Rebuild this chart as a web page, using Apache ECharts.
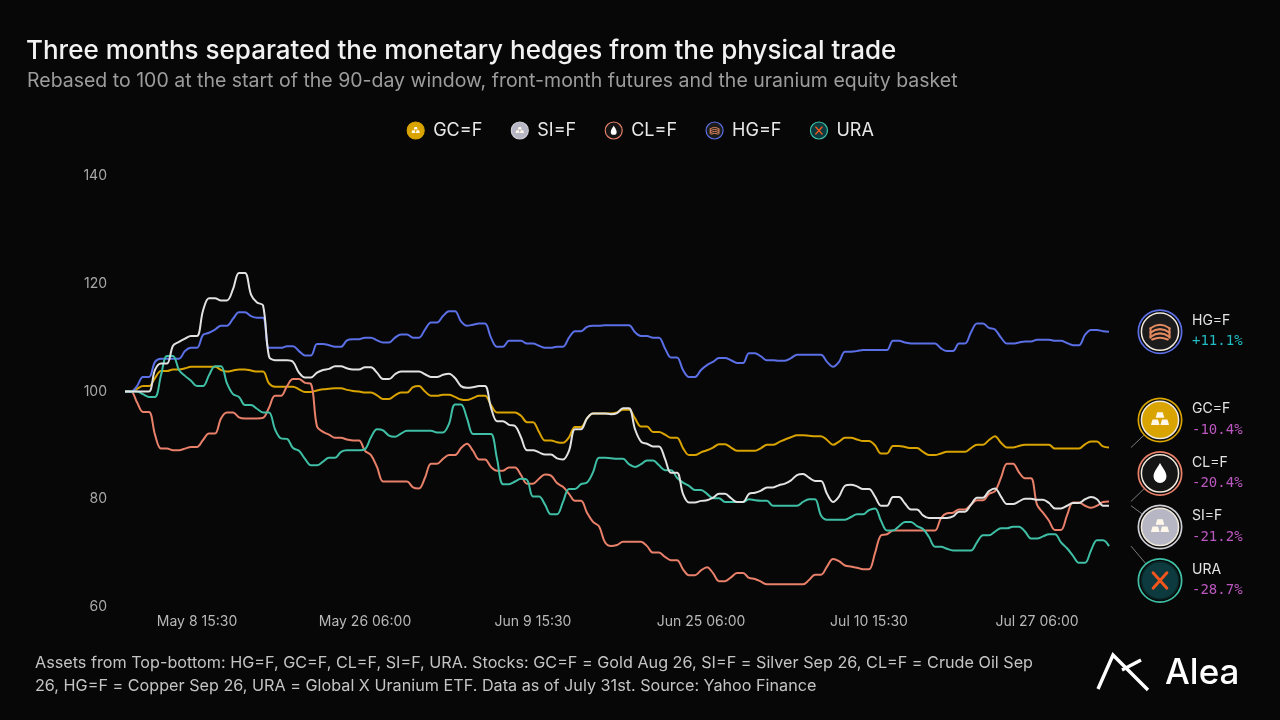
<!DOCTYPE html>
<html>
<head>
<meta charset="utf-8">
<script src="https://cdn.jsdelivr.net/npm/echarts@6/dist/echarts.min.js"></script>
<style>
html,body{margin:0;padding:0;background:#070707;}
#chart{width:1280px;height:720px;}
</style>
</head>
<body>
<div id="chart"></div>
<script>
// ---- Data (rebased to 100) ----
const seriesNames = ['GC=F', 'SI=F', 'CL=F', 'HG=F', 'URA'];
const tickLabels = ['May 8 15:30', 'May 26 06:00', 'Jun 9 15:30', 'Jun 25 06:00', 'Jul 10 15:30', 'Jul 27 06:00'];
const tickPositions = [12, 40, 68, 96, 124, 152];
const yTicks = [60, 80, 100, 120, 140];

const GC = [100,100,100.5,101.0,101.0,102.5,103.8,103.8,104.1,104.1,
104.3,104.6,104.6,104.6,104.6,104.6,104,103.7,103.9,104.1,
104.1,103.9,103.7,103.7,101.5,100.9,100.9,100.9,100.9,100.4,
99.9,99.9,100.2,100.4,100.5,100.6,100.6,100.3,100.1,100,
99.8,99.8,99.3,98.6,98.6,99.3,99.8,99.8,100.8,101.0,
100,99.2,99.2,99.4,99.4,99,98.5,98.4,98.8,99.2,
99.2,97.5,96.1,96.1,96.1,96.1,95.5,94.3,94.3,92.5,
90.9,90.9,90.6,90.5,91.5,93.4,93.4,95,95.9,95.9,
95.9,95.9,96.1,96.6,96.6,95,93.5,93.5,92.5,92.5,
92,91.4,91.4,89.5,88.2,88.2,88.7,89.1,89.6,90.2,
90.2,89.6,89.0,89.0,89.0,89.0,89.5,90.1,90.1,90.6,
91.1,91.5,91.9,91.9,91.8,91.7,91.7,91,90.1,90.7,
91.4,91.4,91.1,90.8,90.8,90,88.5,88.5,89.9,89.9,
89.7,89.5,89.5,88.8,88.2,88.2,88.5,88.8,88.8,88.8,
88.8,89.5,90.1,90.1,91,91.7,90.5,89.6,89.6,89.9,
90.1,90.1,90.1,90.1,90.1,89.4,89.4,89.4,89.4,89.4,
90.2,90.7,90.7,89.8,89.6];

const SI = [100,100,100,100,100,104,105.2,105.2,108.5,109.2,
109.8,110.3,110.3,115,117.3,117.3,116.9,116.9,119,122.0,
122.0,118,116.5,116,106.5,105.8,105.8,105.8,105.5,103.5,
102.6,102.6,103.5,104.0,104.2,104.7,104.7,104.3,104.1,104.1,
104.5,104.5,103.5,102.3,102.3,103.2,103.7,103.7,103.7,103.7,
103.2,102.7,102.7,103.1,103.3,102.5,101,100.7,100.8,101.0,
101.0,97,94.5,94.5,93.8,93.6,91.5,89.1,89.1,88.7,
88.3,88.3,87.6,87.4,89,93.0,93.0,95,95.9,95.9,
95.9,95.8,96,96.9,96.9,93,90.7,90.3,89.8,89.8,
87.5,84.9,84.9,81,79.4,79.4,79.7,79.8,80.3,81.0,
81.0,80.2,79.5,79.5,81.0,81.2,81.6,82.2,82.2,82.6,
82.9,83.5,84.5,84.7,84,83.4,83.4,81,79.5,80.5,
82.5,82.7,82.4,81.9,81.9,80.5,78.8,78.8,80.4,80.4,
79.2,78.1,78.1,77,76.5,76.5,76.5,76.5,76.8,77.7,
77.7,79,80.3,80.3,81.5,82.0,80.5,79.1,79.1,79.6,
80.1,80.1,79.9,79.9,79.3,78.3,78.3,78.8,79.3,79.3,
80,80.4,80.0,78.8,78.8];

const CL = [100,100,98,96.2,96.2,92,89.4,89.4,89.1,89.1,
89.4,89.7,89.7,91,92.2,92.2,95,96.1,96.1,95.2,
95.0,95.0,95.0,95.1,97,99.2,99.2,101,102.3,102.3,
101.6,101.4,93.5,92.5,92,91.4,91.4,91.1,90.9,90.9,
89,88.2,86,83.3,83.3,83.3,83.3,83.3,82.2,82.0,
84,86.6,86.6,87.5,88.2,88.2,89.5,90.3,89,87.4,
87.4,86,85.3,85.3,85.9,85.9,84.5,82.9,82.9,83.8,
84.6,84.4,83,82.3,81,79.7,79.7,77.5,75.8,75,
72,71.3,71.5,72.1,72.1,72.1,72.1,71.3,70.1,70.1,
69.3,68.7,68.7,67,65.9,65.9,66.8,67.4,66.3,64.8,
64.8,65.5,66.3,66.3,65.4,65.2,64.7,64.2,64.2,64.2,
64.2,64.2,64.2,64.2,65,66.0,66.0,67.5,68.9,68.5,
67.7,67.5,67.3,67.0,67.0,70,73.3,73.5,74.2,74.2,
74.2,74.2,74.2,74.2,74.2,74.2,76.5,77.4,77.5,78.1,
78.1,79,79.8,79.8,81,81.5,84,86.6,86.6,85,
83.9,83.9,79,77.5,76,74.3,74.3,77,79.4,79.4,
78.8,78.4,78.8,79.5,79.6];

const HG = [100,100,101,102.7,102.7,105.5,106.1,106.1,106.1,106.1,
107.5,108.1,108.1,110.5,110.9,111.5,112.2,112.2,113.5,114.7,
114.7,114,113.7,113.7,108.1,108.1,108.1,108.4,108.4,107.5,
106.7,106.7,108.8,108.8,108.6,108.3,108.3,109.5,109.7,109.7,
110.0,110.0,109.5,109.1,109.1,110,110.6,110.6,110.0,110.0,
111.5,112.8,112.8,114,114.9,114.9,113,112.2,112.4,112.6,
112.6,110,108.3,108.3,109.4,109.4,109.4,108.9,108.9,108.5,
108.1,108.1,108.3,108.3,110,111.2,111.2,112,112.2,112.2,
112.3,112.3,112.3,112.3,112.3,111,110.3,110.3,110.0,110.0,
108,106.3,106.3,104,102.7,102.7,104,104.9,105.5,106.2,
106.2,105.8,105.3,105.3,107.1,107.1,106.5,105.8,105.8,105.7,
105.7,106.2,106.8,106.8,106.8,106.8,106.8,105.5,104.6,105.5,
107.4,107.4,107.5,107.7,107.7,107.7,107.7,107.7,109.4,109.4,
109.1,108.9,108.9,108.9,108.9,108.9,108,107.5,107.5,108.9,
108.9,111,112.6,112.6,111.8,111.5,110,108.9,108.9,109.1,
109.3,109.3,109.6,109.6,109.6,109.4,109.4,109,108.6,108.6,
110.5,111.4,111.4,111.2,111.1];

const URA = [100,100,100,99.5,99.0,99.0,103,106.6,106.6,104,
102.9,102,101.0,101.0,103,104.7,104.7,101.5,99.5,99,
97.5,97.5,96.8,96.1,96.1,93,91.3,91.2,89.5,89.0,
87.5,86.3,86.3,87,87.7,87.7,88.8,89.1,89.1,89.1,
89.3,91.5,93.0,92.8,91.8,91.6,92.2,92.7,92.7,92.7,
92.7,92.7,92.4,92.4,94,97.6,97.6,95,92.1,92.1,
92.1,92.1,87.5,82.8,82.8,83.3,83.8,83.6,80.5,80.5,
79,77.2,77.2,79.5,81.9,81.9,82.8,83.1,85,87.7,
87.7,87.6,87.5,87.5,86.5,86.0,86.5,87.2,87.2,86.3,
85.4,85.4,84,83.1,82.5,81.7,81.7,81,80.2,80.2,
79.5,79.5,79.5,79.5,80.0,79.8,79.7,79.7,78.8,78.8,
78.8,78.8,78.8,79.5,80.0,80.0,77,76.2,76.2,76.2,
76.2,76.7,77.2,77.2,78,78.3,76,74.2,74.2,75,
75.8,75.8,75,74.5,73,71.2,71.2,70.8,70.5,70.5,
70.5,70.5,72,73.3,73.3,74,74.6,74.6,74.9,74.9,
74,72.7,72.7,73.1,73.5,73.5,72,70.9,69.5,68.2,
68.2,70.5,72.4,72.4,71.3];

const seriesData = [GC, SI, CL, HG, URA];
const categories = GC.map((_, i) => i);

// ---- Styles ----
const lineColors = ['#d9a300', '#e2e2e2', '#e8806a', '#5b6fe6', '#3fbfa5'];
const ringColors = ['#d9a300', '#cfcfd6', '#e8806a', '#5b6fe6', '#3fbfa5'];
const fillColors = ['#d9a300', '#b6b6c4', '#151515', '#1c1c1c', '#0d3a3f'];
const glyphKinds = ['bars', 'bars', 'drop', 'coil', 'x'];
const FONT = 'Inter, "Noto Sans", sans-serif';

function glyph(kind) {
  if (kind === 'bars') {
    const t = (cx, t0, b0) => `M${cx-3.2} ${t0} L${cx+3.2} ${t0} L${cx+5} ${b0} L${cx-5} ${b0} Z`;
    return `<path d="${t(24,15,21.5)} ${t(18.5,23.5,30)} ${t(29.5,23.5,30)}" fill="#fff8ea"/>`;
  }
  if (kind === 'drop') {
    return `<path d="M24 12 C22 16 16.5 22 16.5 27.5 A7.5 7.5 0 0 0 31.5 27.5 C31.5 22 26 16 24 12 Z" fill="#ffffff"/>`;
  }
  if (kind === 'coil') {
    return `<g fill="none" stroke="#e58a60" stroke-width="2.4" stroke-linecap="round">
      <path d="M13 20 Q24 12 35 20"/><path d="M13 25 Q24 17 35 25"/><path d="M13 30 Q24 22 35 30"/>
      <path d="M13 20 L13 31"/><path d="M35 20 L35 31"/><path d="M15 33 Q24 29 33 33"/></g>`;
  }
  return `<g stroke="#f2551d" stroke-width="3.4" stroke-linecap="round"><path d="M16 15 L32 33"/><path d="M32 15 L16 33"/></g>`;
}
function svgUri(s) { return 'data:image/svg+xml;charset=utf-8,' + encodeURIComponent(s); }
function smallIcon(i) {
  return svgUri(`<svg xmlns="http://www.w3.org/2000/svg" width="48" height="48" viewBox="0 0 48 48">
    <circle cx="24" cy="24" r="21.5" fill="${fillColors[i]}" stroke="${ringColors[i]}" stroke-width="3"/>${glyph(glyphKinds[i])}</svg>`);
}
function bigIcon(i) {
  const inner = i === 4 ? '#0a2628' : '#efe8dc';
  return svgUri(`<svg xmlns="http://www.w3.org/2000/svg" width="96" height="96" viewBox="0 0 48 48">
    <circle cx="24" cy="24" r="22.6" fill="#080808" stroke="${ringColors[i]}" stroke-width="1.8"/>
    <circle cx="24" cy="24" r="19.4" fill="${fillColors[i]}" stroke="${inner}" stroke-width="1.6"/>
    <g transform="translate(24 24) scale(0.9) translate(-24 -24)">${glyph(glyphKinds[i])}</g></svg>`);
}

const chart = echarts.init(document.getElementById('chart'), null, {renderer: 'canvas'});

const option = {
  backgroundColor: '#070707',
  animation: false,
  title: [
    {text: 'Three months separated the monetary hedges from the physical trade', left: 21, top: 33,
     textStyle: {color: '#f2f2f2', fontSize: 26, fontWeight: 500, fontFamily: FONT}},
    {text: 'Rebased to 100 at the start of the 90-day window, front-month futures and the uranium equity basket', left: 22, top: 66,
     textStyle: {color: '#9c9c9c', fontSize: 19.5, fontWeight: 400, fontFamily: FONT}},
    {text: 'Assets from Top-bottom: HG=F, GC=F, CL=F, SI=F, URA. Stocks: GC=F = Gold Aug 26, SI=F = Silver Sep 26, CL=F = Crude Oil Sep\n26, HG=F = Copper Sep 26, URA = Global X Uranium ETF. Data as of July 31st. Source: Yahoo Finance',
     left: 30, top: 647,
     textStyle: {color: '#c4c4c4', fontSize: 16.2, fontWeight: 400, lineHeight: 23, fontFamily: FONT}}
  ],
  legend: {
    top: 116, left: 'center', itemWidth: 19, itemHeight: 19, itemGap: 28, selectedMode: false,
    textStyle: {color: '#e8e8e8', fontSize: 18, fontFamily: FONT, padding: [0, 0, 0, 3]},
    data: seriesNames.map((n, i) => ({name: n, icon: 'image://' + smallIcon(i)}))
  },
  grid: {left: 125, right: 171, top: 176, bottom: 113, containLabel: false},
  xAxis: {
    type: 'category', data: categories, boundaryGap: false,
    axisLine: {show: false}, axisTick: {show: false}, splitLine: {show: false},
    axisLabel: {
      color: '#b8b8b8', fontSize: 14, fontFamily: FONT, margin: 8,
      interval: (idx) => tickPositions.indexOf(idx) >= 0,
      formatter: (v, idx) => { const k = tickPositions.indexOf(Number(v)); return k >= 0 ? tickLabels[k] : ''; }
    }
  },
  yAxis: {
    type: 'value', min: yTicks[0], max: yTicks[yTicks.length - 1], interval: 20,
    axisLine: {show: false}, axisTick: {show: false}, splitLine: {show: false},
    axisLabel: {color: '#a8a8a8', fontSize: 14, fontFamily: FONT, margin: 18}
  },
  series: seriesNames.map((n, i) => ({
    name: n, type: 'line', data: seriesData[i], smooth: 0.35, showSymbol: false, symbol: 'none',
    lineStyle: {width: 2, color: lineColors[i]}, itemStyle: {color: lineColors[i]},
    z: i === 1 ? 6 : 2 + i * 0.1, emphasis: {disabled: true}
  }))
};
chart.setOption(option);

// ---- End labels: icons spread to avoid overlap, leader lines to series ends ----
const GAP = 53.5, CX = 1160, R = 22;
const ends = seriesData.map((d, i) => {
  const last = d.length - 1;
  const p = chart.convertToPixel({seriesIndex: i}, [last, d[last]]);
  return {i, px: p[0], py: p[1], pct: (d[last] / d[0] - 1) * 100};
}).sort((a, b) => a.py - b.py);

let groups = ends.map(e => ({items: [e]}));
function place(g) {
  const mean = g.items.reduce((s, e) => s + e.py, 0) / g.items.length;
  const n = g.items.length;
  g.items.forEach((e, k) => { e.cy = mean + (k - (n - 1) / 2) * GAP; });
}
groups.forEach(place);
let merged = true;
while (merged) {
  merged = false;
  for (let k = 1; k < groups.length; k++) {
    const a = groups[k - 1], b = groups[k];
    if (a.items[a.items.length - 1].cy + GAP > b.items[0].cy) {
      a.items = a.items.concat(b.items); place(a); groups.splice(k, 1); merged = true; break;
    }
  }
}

const graphics = [];
ends.forEach(e => {
  const i = e.i;
  if (Math.abs(e.cy - e.py) > 4) {
    const sx = e.px + 22, sy = e.py;
    const dx = CX - sx, dy = e.cy - sy, L = Math.sqrt(dx * dx + dy * dy);
    graphics.push({type: 'line', silent: true, z: 10,
      shape: {x1: sx, y1: sy, x2: CX - dx / L * R, y2: e.cy - dy / L * R},
      style: {stroke: '#7c7c7c', lineWidth: 1}});
  }
  graphics.push({type: 'image', silent: true, z: 11,
    style: {image: bigIcon(i), x: CX - 23, y: e.cy - 23, width: 46, height: 46}});
  graphics.push({type: 'text', silent: true, z: 11, x: 1192, y: e.cy - 11,
    style: {text: seriesNames[i], fill: '#e4e4e4', font: '400 14px ' + FONT, textVerticalAlign: 'middle'}});
  const sign = e.pct >= 0 ? '+' : '-';
  graphics.push({type: 'text', silent: true, z: 11, x: 1192, y: e.cy + 10,
    style: {text: sign + Math.abs(e.pct).toFixed(1) + '%', fill: e.pct >= 0 ? '#22bcc4' : '#bb58c0',
      font: '400 14px "DejaVu Sans Mono", "Liberation Mono", monospace', textVerticalAlign: 'middle'}});
});

// ---- Logo ----
graphics.push({type: 'polyline', silent: true, z: 11,
  shape: {points: [[1098, 689], [1113, 655], [1148, 690]]},
  style: {stroke: '#ffffff', lineWidth: 3.4, fill: null, lineJoin: 'miter'}});
graphics.push({type: 'line', silent: true, z: 11,
  shape: {x1: 1122, y1: 670, x2: 1141, y2: 660},
  style: {stroke: '#ffffff', lineWidth: 3.4}});
graphics.push({type: 'text', silent: true, z: 11, x: 1165, y: 673,
  style: {text: 'Alea', fill: '#ffffff', font: '500 35px ' + FONT, textVerticalAlign: 'middle'}});

chart.setOption({graphic: graphics});
</script>
</body>
</html>
